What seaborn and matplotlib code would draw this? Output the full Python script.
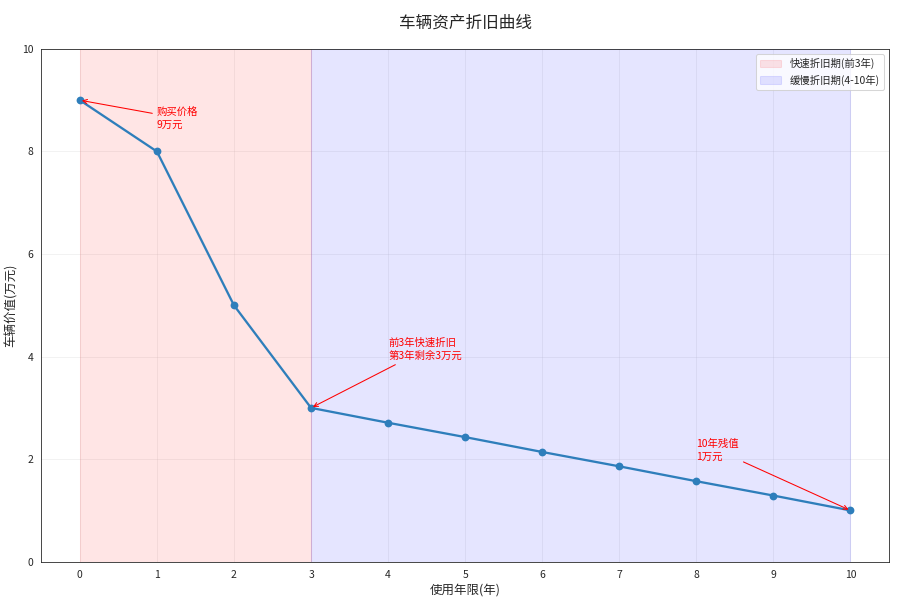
import numpy as np
import pandas as pd
import seaborn as sns
import matplotlib.pyplot as plt

# === Datos ===
years = [0, 1, 2, 3, 4, 5, 6, 7, 8, 9, 10]
values = [9, 8, 5, 3, 2.71, 2.43, 2.14, 1.86, 1.57, 1.29, 1]
x_ticks = list(range(0, 11))

df = pd.DataFrame({'year': years, 'value': values})

sns.set_style('white')
plt.rcParams['font.family'] = ['Noto Sans CJK SC', 'DejaVu Sans']
plt.rcParams['axes.unicode_minus'] = False

# figura de 12x8 pulgadas a ~75 dpi -> 898x604 px
dpi = 74.83
fig, ax = plt.subplots(figsize=(898 / dpi, 604 / dpi), dpi=dpi)

ax.axvspan(0, 3, color='red', alpha=0.1, label='快速折旧期(前3年)')
ax.axvspan(3, 10, color='blue', alpha=0.1, label='缓慢折旧期(4-10年)')

sns.lineplot(data=df, x='year', y='value', marker='o', color='#2E7EBB',
             linewidth=2.2, markersize=7.5, markeredgewidth=0, ax=ax)

ax.annotate('购买价格\n9万元', xy=(0, 9), xytext=(1, 8.47), color='red', fontsize=10,
            linespacing=1.35, arrowprops=dict(arrowstyle='->', color='red'))
ax.annotate('前3年快速折旧\n第3年剩余3万元', xy=(3, 3), xytext=(4, 3.95), color='red', fontsize=10,
            linespacing=1.35, arrowprops=dict(arrowstyle='->', color='red'))
ax.annotate('10年残值\n1万元', xy=(10, 1), xytext=(8, 1.99), color='red', fontsize=10,
            linespacing=1.35, arrowprops=dict(arrowstyle='->', color='red'))

ax.set_xlim(-0.5, 10.5)
ax.set_ylim(0, 10)
ax.set_xticks(x_ticks)
ax.grid(True, alpha=0.3)
ax.set_xlabel('使用年限(年)', fontsize=12)
ax.set_ylabel('车辆价值(万元)', fontsize=12)
ax.set_title('车辆资产折旧曲线', fontsize=16, pad=20)
ax.tick_params(labelsize=10, length=4)
ax.legend(loc='upper right', fontsize=10)

plt.subplots_adjust(left=0.046, right=0.99, top=0.919, bottom=0.07)
plt.savefig('out.png', dpi=dpi)
